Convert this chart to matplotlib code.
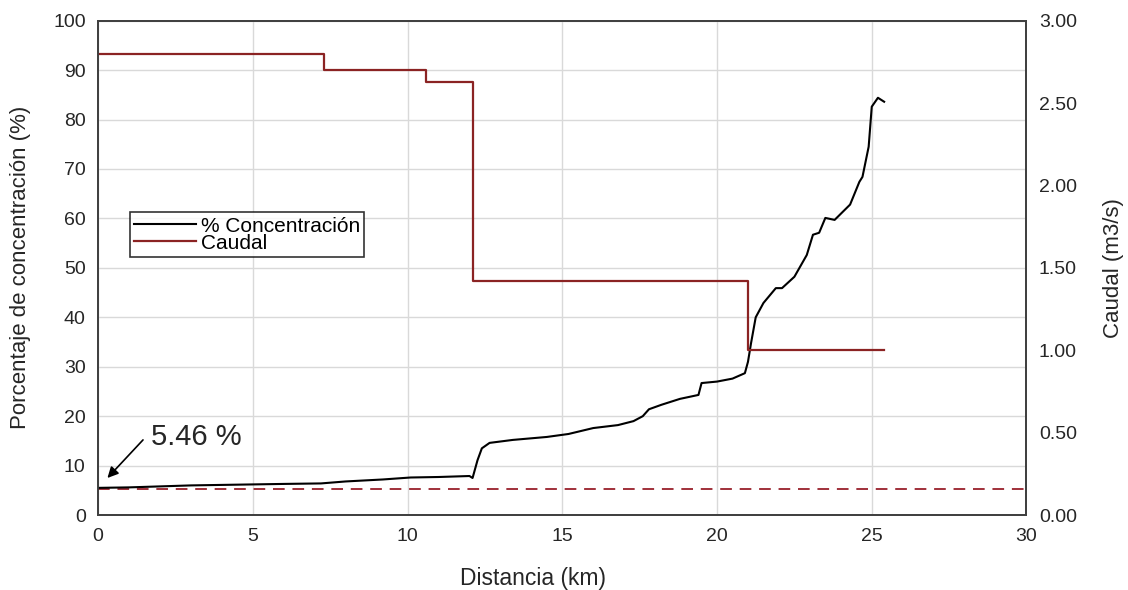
import matplotlib.pyplot as plt

plt.rcParams['font.family'] = ['Liberation Sans', 'DejaVu Sans']

# Concentration profile (% vs km)
dist_km = [0.0, 1.0, 2.0, 3.0, 4.0, 5.0, 6.0, 7.2, 8.0, 9.2, 10.1, 11.0, 12.0, 12.1,
           12.26, 12.4, 12.65, 13.4, 14.5, 15.2, 16.0, 16.8, 17.3, 17.6, 17.8, 18.2, 18.8,
           19.4, 19.5, 20.0, 20.5, 20.9, 21.0, 21.1, 21.25, 21.5, 21.9, 22.1, 22.5, 22.9,
           23.1, 23.3, 23.5, 23.8, 24.3, 24.6, 24.7, 24.9, 25.0, 25.2, 25.4]
concentracion = [5.5, 5.6, 5.8, 6.0, 6.1, 6.2, 6.3, 6.4, 6.8, 7.2, 7.6, 7.7, 7.9, 7.5,
                 11.1, 13.5, 14.6, 15.2, 15.8, 16.4, 17.6, 18.2, 19.0, 20.0, 21.4, 22.3, 23.5,
                 24.3, 26.7, 27.0, 27.6, 28.7, 31.0, 34.8, 40.0, 42.9, 45.9, 45.9, 48.2, 52.6,
                 56.7, 57.1, 60.1, 59.7, 62.8, 67.4, 68.4, 74.5, 82.6, 84.4, 83.6]

# Flow steps (m3/s)
caudal_km = [0.0, 7.3, 10.6, 12.1, 21.0, 25.4]
caudal = [2.80, 2.70, 2.63, 1.42, 1.00, 1.00]

base_conc = 5.46
ref_line = 5.3

fig = plt.figure(figsize=(11.28, 5.9), dpi=100)
ax = fig.add_axes([0.087, 0.127, 0.823, 0.838])
ax2 = ax.twinx()

txt = '#262626'
grid_c = '#d9d9d9'

l1, = ax.plot(dist_km, concentracion, color='black', lw=1.5, label='% Concentración', zorder=3)
ax.axhline(ref_line, color='#a0303a', lw=1.4, ls=(0, (6, 4)), zorder=2)
l2, = ax2.step(caudal_km, caudal, where='post', color='#8b2323', lw=1.6, label='Caudal')

ax.set_xlim(0, 30)
ax.set_ylim(0, 100)
ax2.set_ylim(0, 3)
ax.set_xticks(range(0, 31, 5))
ax.set_yticks(range(0, 101, 10))
ax2.set_yticks([0, 0.5, 1.0, 1.5, 2.0, 2.5, 3.0])
ax2.set_yticklabels([f'{v:.2f}' for v in ax2.get_yticks()])

ax.grid(True, color=grid_c, lw=1.0)
ax.set_axisbelow(True)
for a in (ax, ax2):
    a.tick_params(length=0, labelsize=14, colors=txt, pad=9)
    for s in a.spines.values():
        s.set_color('#404040')
        s.set_linewidth(1.3)

ax.set_xlabel('Distancia (km)', fontsize=16.5, color=txt)
ax.xaxis.set_label_coords(0.468, -0.105)
ax.set_ylabel('Porcentaje de concentración (%)', fontsize=16, color=txt, labelpad=16)
ax2.set_ylabel('Caudal (m3/s)', fontsize=16, color=txt, labelpad=19)

# arrow + label for the starting concentration
ax.annotate('', xy=(0.3, 7.5), xytext=(1.45, 15.2),
            arrowprops=dict(arrowstyle='-|>', color='black', lw=1.2, mutation_scale=16,
                            shrinkA=0, shrinkB=0))
ax.text(1.72, 15.8, f'{base_conc:.2f} %', fontsize=21, color=txt, va='center', ha='left')

leg = ax.legend(handles=[l1, l2], loc='upper left', bbox_to_anchor=(0.034, 0.612),
                fontsize=15, frameon=True, fancybox=False, edgecolor='black',
                handlelength=3.0, handletextpad=0.2, borderpad=0.2, labelspacing=-0.1,
                borderaxespad=0)
leg.get_frame().set_linewidth(1.2)

fig.savefig('out.png', dpi=100, facecolor='white')
plt.close(fig)
